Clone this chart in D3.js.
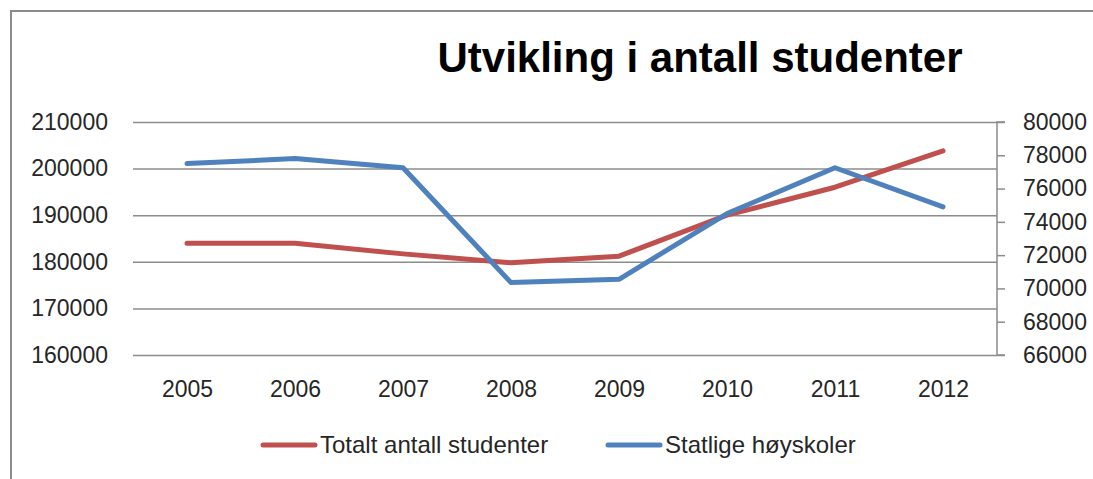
<!DOCTYPE html>
<html>
<head>
<meta charset="utf-8">
<script src="https://cdn.jsdelivr.net/npm/d3@7"></script>
<style>
  body { margin: 0; background: #fff; }
  text { font-family: "Liberation Sans", Arial, sans-serif; }
</style>
</head>
<body>
<script>
const years = ["2005", "2006", "2007", "2008", "2009", "2010", "2011", "2012"];
const totaltAntall = [184000, 184000, 181700, 179800, 181200, 190000, 196000, 203800];
const statligeHoyskoler = [77500, 77800, 77250, 70350, 70550, 74500, 77250, 74900];
const leftTicks = [160000, 170000, 180000, 190000, 200000, 210000];
const rightTicks = [66000, 68000, 70000, 72000, 74000, 76000, 78000, 80000];
const seriesNames = ["Totalt antall studenter", "Statlige høyskoler"];

const width = 1093;
const height = 479;
const plotLeft = 133, plotRight = 997, plotTop = 122, plotBottom = 355;

const svg = d3.select("body")
  .append("svg")
  .attr("width", width)
  .attr("height", height);

// outer frame (only top and left visible)
svg.append("path")
  .attr("d", `M11,${height} L11,11 L${width},11`)
  .attr("fill", "none")
  .attr("stroke", "#8c8c8c")
  .attr("stroke-width", 2);

const xScale = d3.scalePoint()
  .domain(years)
  .range([plotLeft, plotRight])
  .padding(0.5);

const yLeft = d3.scaleLinear()
  .domain([160000, 210000])
  .range([plotBottom, plotTop]);

const yRight = d3.scaleLinear()
  .domain([66000, 80000])
  .range([plotBottom, plotTop]);

// gridlines + left labels
const leftAxis = d3.axisLeft(yLeft)
  .tickValues(leftTicks)
  .tickSize(-(plotRight - plotLeft))
  .tickPadding(25)
  .tickFormat(d3.format("d"));

svg.append("g")
  .attr("transform", "translate(" + plotLeft + ",0)")
  .call(leftAxis)
  .call(g => g.select(".domain").remove())
  .call(g => g.selectAll("line").attr("stroke", "#8c8c8c").attr("stroke-width", 1.5))
  .call(g => g.selectAll("text").attr("font-size", 23).attr("fill", "#262626")
    .attr("font-family", "Liberation Sans, Arial, sans-serif"));

// right axis
const rightAxis = d3.axisRight(yRight)
  .tickValues(rightTicks)
  .tickSize(8)
  .tickPadding(18)
  .tickFormat(d3.format("d"));

svg.append("g")
  .attr("transform", "translate(" + plotRight + ",0)")
  .call(rightAxis)
  .call(g => g.select(".domain").attr("stroke", "#8c8c8c").attr("stroke-width", 1.5)
    .attr("d", `M8,${plotBottom}H0V${plotTop}H8`))
  .call(g => g.selectAll("line").attr("stroke", "#8c8c8c").attr("stroke-width", 1.5))
  .call(g => g.selectAll("text").attr("font-size", 23).attr("fill", "#262626")
    .attr("font-family", "Liberation Sans, Arial, sans-serif"));

// x labels
const xAxis = d3.axisBottom(xScale).tickSize(0).tickPadding(26);
svg.append("g")
  .attr("transform", "translate(0," + plotBottom + ")")
  .call(xAxis)
  .call(g => g.select(".domain").remove())
  .call(g => g.selectAll("text").attr("font-size", 23).attr("fill", "#262626")
    .attr("font-family", "Liberation Sans, Arial, sans-serif"));

// lines
const lineLeft = d3.line()
  .x((d, i) => xScale(years[i]))
  .y(d => yLeft(d));

const lineRight = d3.line()
  .x((d, i) => xScale(years[i]))
  .y(d => yRight(d));

svg.append("path")
  .datum(totaltAntall)
  .attr("d", lineLeft)
  .attr("fill", "none")
  .attr("stroke", "#c0504d")
  .attr("stroke-width", 5)
  .attr("stroke-linejoin", "round")
  .attr("stroke-linecap", "round");

svg.append("path")
  .datum(statligeHoyskoler)
  .attr("d", lineRight)
  .attr("fill", "none")
  .attr("stroke", "#4f81bd")
  .attr("stroke-width", 5)
  .attr("stroke-linejoin", "round")
  .attr("stroke-linecap", "round");

// title
svg.append("text")
  .attr("x", 700)
  .attr("y", 72)
  .attr("text-anchor", "middle")
  .attr("font-size", 42)
  .attr("font-weight", "bold")
  .attr("fill", "#000")
  .text("Utvikling i antall studenter");

// legend
const legendColors = ["#c0504d", "#4f81bd"];
const legendX = [263, 608];
seriesNames.forEach((name, i) => {
  svg.append("line")
    .attr("x1", legendX[i])
    .attr("x2", legendX[i] + 52)
    .attr("y1", 445)
    .attr("y2", 445)
    .attr("stroke", legendColors[i])
    .attr("stroke-width", 5)
    .attr("stroke-linecap", "round");
  svg.append("text")
    .attr("x", legendX[i] + 57)
    .attr("y", 445)
    .attr("dy", "0.35em")
    .attr("font-size", 24)
    .attr("fill", "#262626")
    .text(name);
});
</script>
</body>
</html>
